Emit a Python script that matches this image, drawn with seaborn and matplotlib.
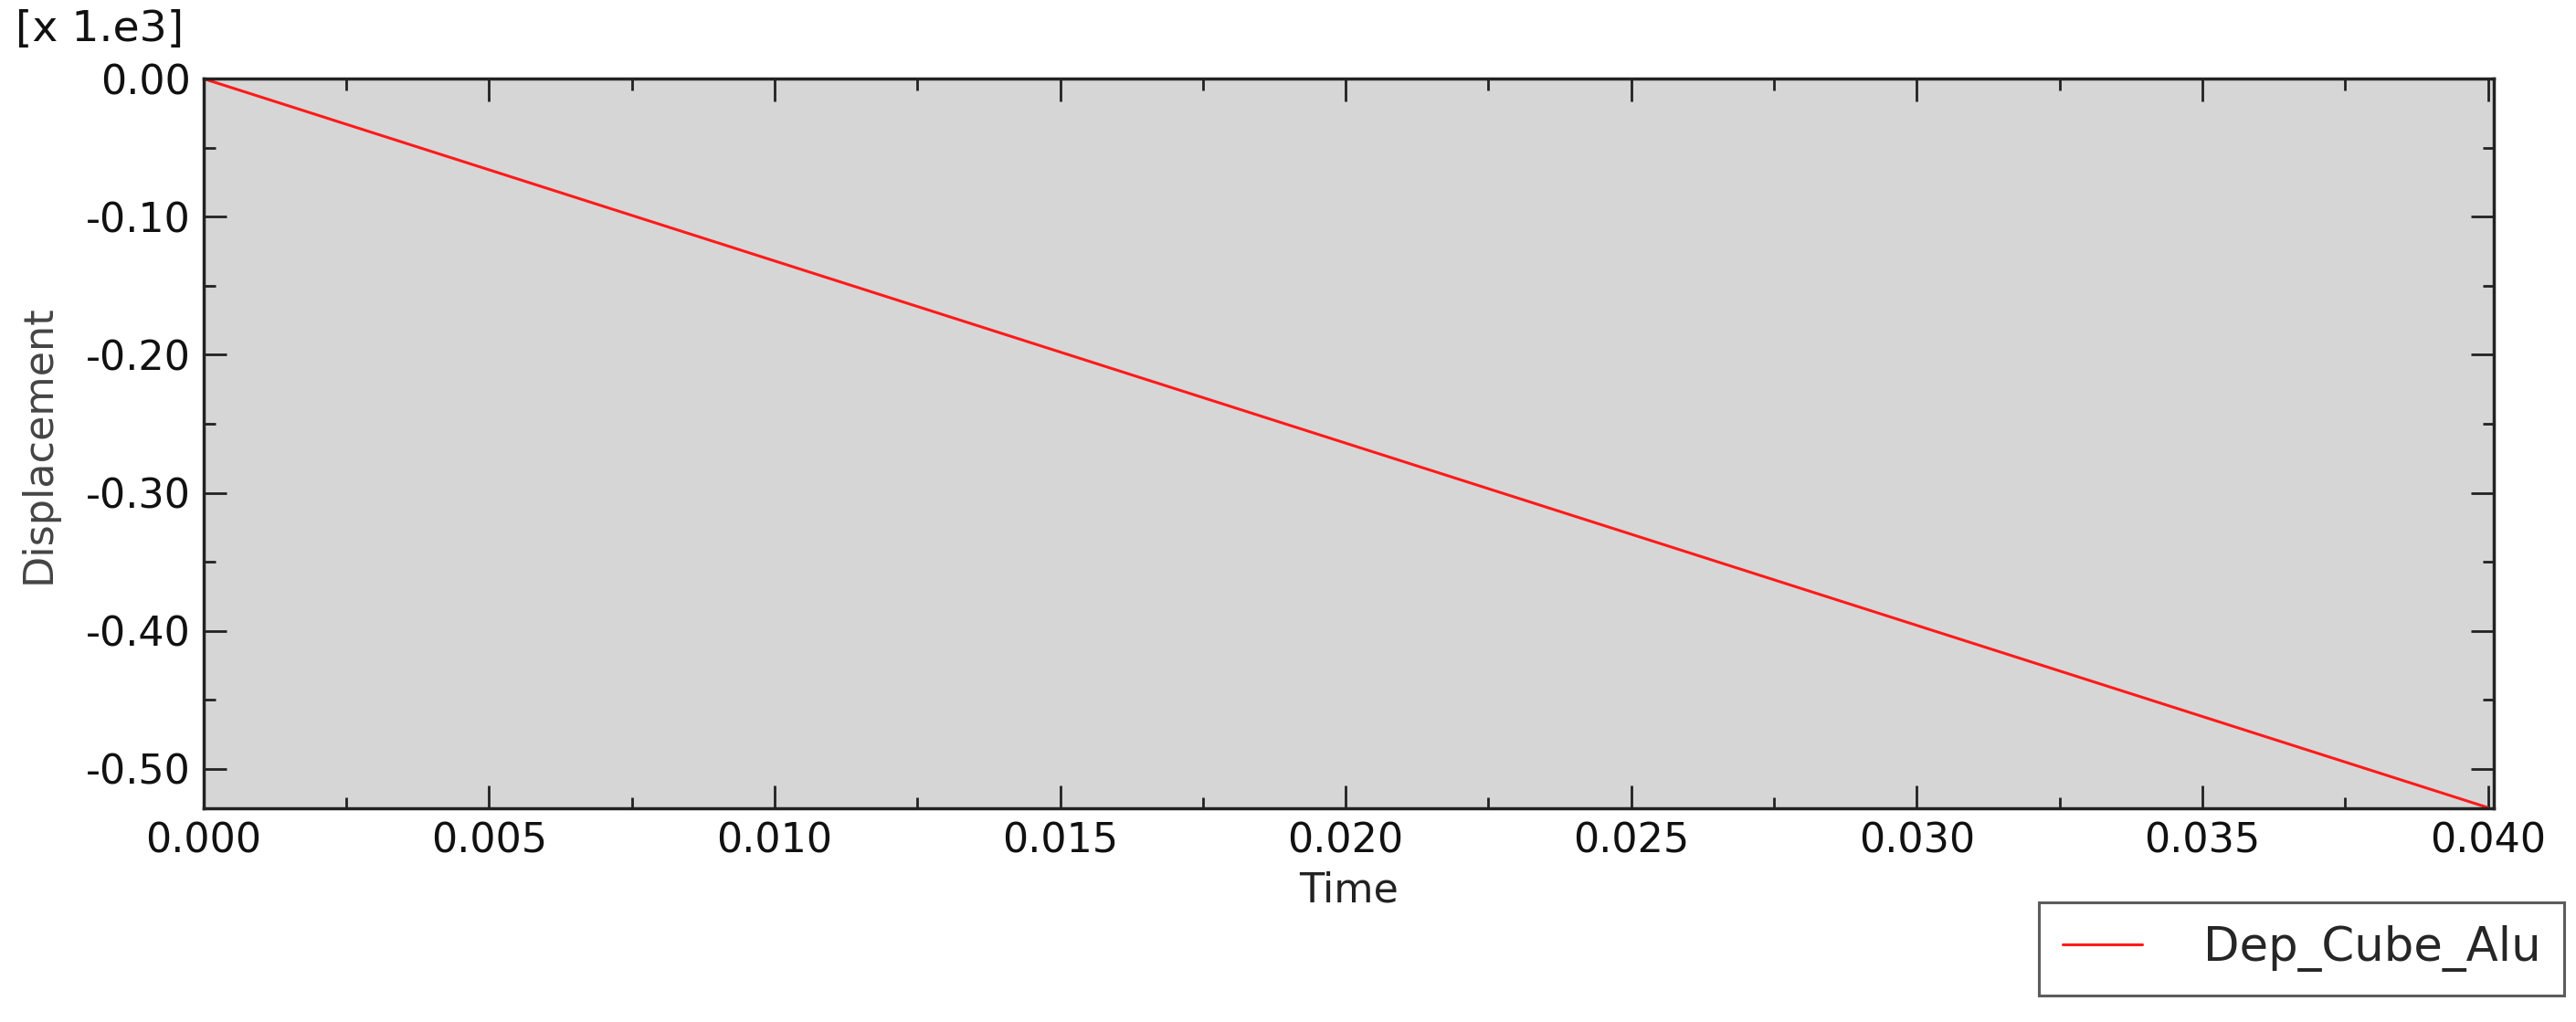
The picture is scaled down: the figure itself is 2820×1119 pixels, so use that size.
import numpy as np
import pandas as pd
import matplotlib
matplotlib.use("Agg")
import matplotlib.pyplot as plt
import seaborn as sns
from matplotlib.ticker import MultipleLocator, FormatStrFormatter

time = [0.0, 0.04]
displacement = [0.0, -528.0]
series_name = "Dep_Cube_Alu"

df = pd.DataFrame({"Time": time, "Displacement": np.array(displacement) / 1000.0, "curve": series_name})

sns.set_style("ticks")
plt.rcParams['font.family'] = ['DejaVu Sans']

fig = plt.figure(figsize=(28.2, 11.19), dpi=100)
ax = fig.add_axes([0.079, 0.209, 0.889, 0.714])
ax.set_facecolor("#d6d6d6")

sns.lineplot(data=df, x="Time", y="Displacement", hue="curve", palette=["#ff1a1a"],
             linewidth=2.2, ax=ax, legend=True)

ax.set_xlim(0.0, 0.0401)
ax.set_ylim(-0.5286, 0.0)
ax.xaxis.set_major_locator(MultipleLocator(0.005))
ax.xaxis.set_minor_locator(MultipleLocator(0.0025))
ax.yaxis.set_major_locator(MultipleLocator(0.1))
ax.yaxis.set_minor_locator(MultipleLocator(0.05))
ax.xaxis.set_major_formatter(FormatStrFormatter("%.3f"))
ax.yaxis.set_major_formatter(FormatStrFormatter("%.2f"))

ax.tick_params(which="both", direction="in", top=True, right=True, color="#222222", width=2)
ax.tick_params(which="major", length=18, labelsize=32, pad=10, labelcolor="#111111")
ax.tick_params(which="minor", length=9)
for s in ax.spines.values():
    s.set_color("#222222")
    s.set_linewidth(2.5)

ax.set_xlabel("Time", fontsize=32, color="#222222", labelpad=8)
ax.set_ylabel("Displacement", fontsize=32, color="#444444", labelpad=22)

fig.text(0.006, 0.971, "[x 1.e3]", fontsize=34, va="center", ha="left", color="#111111")

leg = ax.legend(loc="lower right", bbox_to_anchor=(0.9955, 0.026), bbox_transform=fig.transFigure,
                fontsize=37, frameon=True, fancybox=False, handlelength=1.7, handletextpad=1.3,
                borderpad=0.5, borderaxespad=0)
leg.get_frame().set_edgecolor("#333333")
leg.get_frame().set_linewidth(2.2)

fig.savefig("out.png", dpi=100)
